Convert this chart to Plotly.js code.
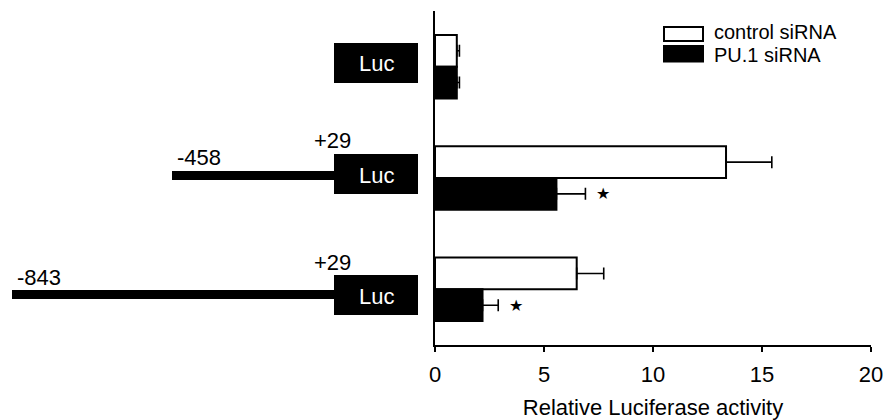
<!DOCTYPE html>
<html>
<head>
<meta charset="utf-8">
<script src="https://cdn.plot.ly/plotly-3.0.1.min.js"></script>
<style>html,body{margin:0;padding:0;background:#fff;}#chart{width:884px;height:420px;}</style>
</head>
<body>
<div id="chart"></div>
<script>
// ---- data ----
const groups = ['Luc', '-458/+29', '-843/+29'];
const seriesNames = ['control siRNA', 'PU.1 siRNA'];
const controlValues = [1.0, 13.35, 6.5];
const controlErrors = [0.12, 2.1, 1.24];
const pu1Values = [1.0, 5.57, 2.18];
const pu1Errors = [0.12, 1.33, 0.72];
const significant = [false, true, true];
const xTickVals = [0, 5, 10, 15, 20];
const promoterStart = [null, '-458', '-843'];
const promoterEnd = [null, '+29', '+29'];
const reporterLabel = 'Luc';
const xTitle = 'Relative Luciferase activity';

// ---- layout helpers (pixel geometry) ----
const W = 884, H = 420;
const M = {l: 435, r: 13, t: 11, b: 75};
const PW = W - M.l - M.r, PH = H - M.t - M.b;
const px = x => (x - M.l) / PW;
const py = y => (H - M.b - y) / PH;
const FONT = 'Liberation Sans, Arial, Helvetica, sans-serif';
const FS = 22;
const LEG_FS = 20;

const shapes = [];
const annotations = [];

// construct diagrams
const boxLeft = 334, boxRight = 418, boxHalf = 20;
const boxCenters = [63, 174, 295];
const lineLeft = [null, 172, 12];
const lineCenters = [null, 175.5, 294.5];
const startLabelX = [null, 175, 15];
const startLabelY = [null, 157, 277];
const endLabelY = [null, 140, 262];
groups.forEach((g, i) => {
  if (promoterStart[i] !== null) {
    shapes.push({type: 'rect', xref: 'paper', yref: 'paper',
      x0: px(lineLeft[i]), x1: px(boxLeft + 2), y0: py(lineCenters[i] - 4.5), y1: py(lineCenters[i] + 4.5),
      fillcolor: '#000', line: {width: 0}});
    annotations.push({xref: 'paper', yref: 'paper', x: px(startLabelX[i]), y: py(startLabelY[i]),
      xanchor: 'left', yanchor: 'middle', showarrow: false, text: promoterStart[i],
      font: {family: FONT, size: FS, color: '#000'}});
    annotations.push({xref: 'paper', yref: 'paper', x: px(332), y: py(endLabelY[i]),
      xanchor: 'center', yanchor: 'middle', showarrow: false, text: promoterEnd[i],
      font: {family: FONT, size: FS, color: '#000'}});
  }
  shapes.push({type: 'rect', xref: 'paper', yref: 'paper',
    x0: px(boxLeft), x1: px(boxRight), y0: py(boxCenters[i] - boxHalf), y1: py(boxCenters[i] + boxHalf),
    fillcolor: '#000', line: {width: 0}});
  annotations.push({xref: 'paper', yref: 'paper', x: px((boxLeft + boxRight) / 2), y: py(boxCenters[i] + 1),
    xanchor: 'center', yanchor: 'middle', showarrow: false, text: reporterLabel,
    font: {family: FONT, size: FS, color: '#fff'}});
});

// significance stars
const barOffset = (1 - 0.43) / 4;
groups.forEach((g, i) => {
  if (significant[i]) {
    annotations.push({xref: 'x', yref: 'y', x: pu1Values[i] + pu1Errors[i] + 0.8, y: i + barOffset,
      xanchor: 'center', yanchor: 'middle', showarrow: false, text: '★',
      font: {family: 'DejaVu Sans', size: 16, color: '#000'}});
  }
});

// manual legend
shapes.push({type: 'rect', xref: 'paper', yref: 'paper', x0: px(664), x1: px(703), y0: py(27), y1: py(41),
  fillcolor: '#fff', line: {color: '#000', width: 2}});
shapes.push({type: 'rect', xref: 'paper', yref: 'paper', x0: px(663), x1: px(704), y0: py(45), y1: py(62.5),
  fillcolor: '#000', line: {width: 0}});
annotations.push({xref: 'paper', yref: 'paper', x: px(712), y: py(31.5), xanchor: 'left', yanchor: 'middle',
  showarrow: false, text: seriesNames[0], font: {family: FONT, size: LEG_FS, color: '#000'}});
annotations.push({xref: 'paper', yref: 'paper', x: px(712), y: py(54.5), xanchor: 'left', yanchor: 'middle',
  showarrow: false, text: seriesNames[1], font: {family: FONT, size: LEG_FS, color: '#000'}});

const errStyle = (arr) => ({type: 'data', array: arr, arrayminus: arr.map(() => 0), symmetric: false,
  color: '#000', thickness: 1.6, width: 6});

const traces = [
  {type: 'bar', orientation: 'h', name: seriesNames[0], y: groups, x: controlValues,
   marker: {color: '#fff', line: {color: '#000', width: 2}}, error_x: errStyle(controlErrors),
   showlegend: false, hoverinfo: 'x+name'},
  {type: 'bar', orientation: 'h', name: seriesNames[1], y: groups, x: pu1Values,
   marker: {color: '#000', line: {color: '#000', width: 2}}, error_x: errStyle(pu1Errors),
   showlegend: false, hoverinfo: 'x+name'}
];

const layout = {
  width: W, height: H,
  margin: M,
  paper_bgcolor: '#fff', plot_bgcolor: '#fff',
  font: {family: FONT, size: FS, color: '#000'},
  barmode: 'group', bargap: 0.43, bargroupgap: 0,
  showlegend: false,
  xaxis: {range: [0, 20], tickvals: xTickVals, ticktext: xTickVals.map(String),
    showline: true, linecolor: '#000', linewidth: 2, ticks: 'outside', ticklen: 5, tickwidth: 2,
    tickcolor: '#000', showgrid: false, zeroline: false, tickfont: {family: FONT, size: FS},
    ticklabelstandoff: 4,
    title: {text: xTitle, font: {family: FONT, size: FS}, standoff: 16}},
  yaxis: {type: 'category', categoryorder: 'array', categoryarray: groups, range: [2.5, -0.5],
    showline: true, linecolor: '#000', linewidth: 2, showticklabels: false, ticks: '',
    showgrid: false, zeroline: false},
  shapes: shapes,
  annotations: annotations
};

Plotly.newPlot('chart', traces, layout, {displayModeBar: false, staticPlot: true});
</script>
</body>
</html>
